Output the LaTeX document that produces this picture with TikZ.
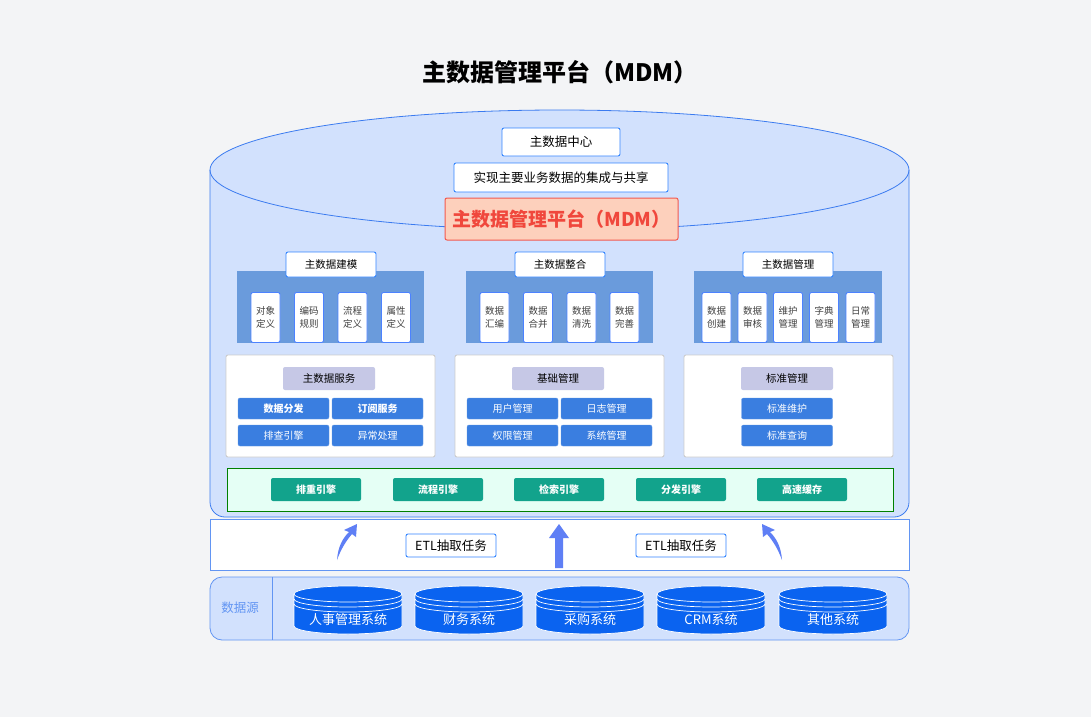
\documentclass[tikz,border=0pt]{standalone}
\usepackage{fontspec}
\setmainfont{Noto Sans CJK SC}
\begin{document}
\begin{tikzpicture}[x=1pt,y=-1pt,
  wbox/.style={draw=blue!60!cyan!80!white,fill=white,rounded corners=2pt,line width=0.9pt,inner sep=0pt},
  sbox/.style={draw=blue!70!cyan!70!white,fill=white,rounded corners=2pt,line width=0.9pt,inner sep=0pt,minimum width=29pt,minimum height=50pt,font=\fontsize{9.5}{13}\selectfont,align=center,text=black!75},
  panel/.style={draw=black!20,fill=white,rounded corners=2pt,line width=0.9pt},
  lav/.style={fill=lavc,rounded corners=2pt,inner sep=0pt,minimum width=92pt,minimum height=23pt,font=\fontsize{10.5}{12}\selectfont},
  btn/.style={fill=btnc,draw=btnc!80!white,rounded corners=2pt,inner sep=0pt,minimum width=91pt,minimum height=21pt,text=white,font=\fontsize{10}{12}\selectfont},
  tbtn/.style={fill=tealc,rounded corners=2pt,inner sep=0pt,minimum width=90pt,minimum height=23pt,text=white,font=\bfseries\fontsize{10}{12}\selectfont},
  etl/.style={draw=blue!60!cyan!80!white,fill=white,rounded corners=2pt,line width=0.9pt,inner sep=0pt,minimum width=90pt,minimum height=23pt,font=\fontsize{12.5}{14}\selectfont}]
\definecolor{bg}{HTML}{F3F4F6}
\definecolor{cyl}{HTML}{D2E1FD}
\definecolor{cyld}{HTML}{3B7BF0}
\definecolor{bandc}{HTML}{6A9BDC}
\definecolor{lavc}{HTML}{C6C8E6}
\definecolor{btnc}{HTML}{3A7EE0}
\definecolor{tealc}{HTML}{12A38C}
\definecolor{arrc}{HTML}{5F7FF5}
\definecolor{dbc}{HTML}{0A63F0}
\definecolor{redt}{HTML}{F0473C}
\definecolor{redf}{HTML}{FDD0BC}
\fill[bg] (0,0) rectangle (1091,717);
\useasboundingbox (0,0) rectangle (1091,717);
\node[font=\bfseries\fontsize{24}{26}\selectfont] (title) at (560,72) {主数据管理平台（MDM）};
% cylinder
\filldraw[fill=cyl,draw=cyld,line width=0.8pt] (210,170) -- (210,502) arc[start angle=180,end angle=90,radius=15] -- (894,517) arc[start angle=90,end angle=0,radius=15] -- (909,170) arc[start angle=0,end angle=-180,x radius=349.5,y radius=60] -- cycle;
\draw[cyld,line width=0.8pt] (210,170) arc[start angle=180,end angle=0,x radius=349.5,y radius=60];
\node[wbox,minimum width=118pt,minimum height=28pt,font=\fontsize{12.5}{14}\selectfont] (c1) at (561,142) {主数据中心};
\node[wbox,minimum width=214pt,minimum height=29pt,font=\fontsize{12.5}{14}\selectfont] (c2) at (561,177.5) {实现主要业务数据的集成与共享};
\node[draw=redt!90!white,fill=redf,rounded corners=2pt,line width=1pt,minimum width=233pt,minimum height=42pt,inner sep=0pt,text=redt,font=\bfseries\fontsize{19}{21}\selectfont] (c3) at (561.5,219) {主数据管理平台（MDM）};
% group bands
\fill[bandc] (237,271) rectangle (424,343);
\fill[bandc] (466,271) rectangle (653,343);
\fill[bandc] (694,271) rectangle (882,343);
\node[wbox,minimum width=90pt,minimum height=25pt,font=\fontsize{10.5}{12}\selectfont] (g1) at (331,264.5) {主数据建模};
\node[wbox,minimum width=90pt,minimum height=25pt,font=\fontsize{10.5}{12}\selectfont] (g2) at (560,264.5) {主数据整合};
\node[wbox,minimum width=90pt,minimum height=25pt,font=\fontsize{10.5}{12}\selectfont] (g3) at (788,264.5) {主数据管理};
\node[sbox] (a1) at (265.5,317.5) {对象\\定义};
\node[sbox] (a2) at (309,317.5) {编码\\规则};
\node[sbox] (a3) at (352.5,317.5) {流程\\定义};
\node[sbox] (a4) at (396,317.5) {属性\\定义};
\node[sbox] (b1) at (494.5,317.5) {数据\\汇编};
\node[sbox] (b2) at (538,317.5) {数据\\合并};
\node[sbox] (b3) at (581.5,317.5) {数据\\清洗};
\node[sbox] (b4) at (624.5,317.5) {数据\\完善};
\node[sbox] (d1) at (716.5,317.5) {数据\\创建};
\node[sbox] (d2) at (752.5,317.5) {数据\\审核};
\node[sbox] (d3) at (788,317.5) {维护\\管理};
\node[sbox] (d4) at (824,317.5) {字典\\管理};
\node[sbox] (d5) at (860.5,317.5) {日常\\管理};
% panels
\draw[panel] (226,355) rectangle (435,457);
\draw[panel] (455,355) rectangle (664,457);
\draw[panel] (684,355) rectangle (893,457);
\node[lav] (p1) at (329,378.5) {主数据服务};
\node[lav] (p2) at (558,378.5) {基础管理};
\node[lav] (p3) at (787,378.5) {标准管理};
\node[btn,font=\bfseries\fontsize{10}{12}\selectfont] (s1) at (283.5,408.5) {数据分发};
\node[btn,font=\bfseries\fontsize{10}{12}\selectfont] (s2) at (377.5,408.5) {订阅服务};
\node[btn] (s3) at (283.5,435.5) {排查引擎};
\node[btn] (s4) at (377.5,435.5) {异常处理};
\node[btn] (m1) at (512.5,408.5) {用户管理};
\node[btn] (m2) at (606.5,408.5) {日志管理};
\node[btn] (m3) at (512.5,435.5) {权限管理};
\node[btn] (m4) at (606.5,435.5) {系统管理};
\node[btn] (n1) at (787,408.5) {标准维护};
\node[btn] (n2) at (787,435.5) {标准查询};
% engines
\filldraw[fill=green!40!cyan!10!white,draw=green!50!black,line width=0.8pt] (227,468) rectangle (893,511);
\node[tbtn] (e1) at (316,489.5) {排重引擎};
\node[tbtn] (e2) at (438,489.5) {流程引擎};
\node[tbtn] (e3) at (559,489.5) {检索引擎};
\node[tbtn] (e4) at (681,489.5) {分发引擎};
\node[tbtn] (e5) at (802,489.5) {高速缓存};
% ETL band
\filldraw[fill=white,draw=cyld!80!white,line width=0.8pt] (210,519) rectangle (909,570);
\node[etl] (t1) at (451,545.5) {ETL抽取任务};
\node[etl] (t2) at (681,545.5) {ETL抽取任务};
\fill[arrc] (337,560) .. controls (338,546) and (343,538) .. (349,532) -- (344,530) -- (357,524) -- (356,537) -- (352,534) .. controls (346,541) and (341,549) .. (337,560) -- cycle;
\fill[arrc] (555,568) -- (555,538) -- (549,538) -- (559,524) -- (569,538) -- (563,538) -- (563,568) -- cycle;
\fill[arrc] (782,560) .. controls (781,546) and (776,538) .. (770,532) -- (775,530) -- (762,524) -- (763,537) -- (767,534) .. controls (773,541) and (778,549) .. (782,560) -- cycle;
% data source
\filldraw[fill=cyl,draw=cyld!80!white,line width=0.8pt,rounded corners=12pt] (210,577) rectangle (909,640);
\draw[cyld!80!white,line width=0.8pt] (272,577) -- (272,640);
\node[text=cyld!80!white,font=\fontsize{12.5}{14}\selectfont] (ds) at (240,608) {数据源};
\foreach \cx/\lab/\nm in {348/人事管理系统/h1,469/财务系统/h2,590/采购系统/h3,711/CRM系统/h4,833/其他系统/h5}{
  \filldraw[fill=dbc,draw=white,line width=0.7pt] (\cx-54,594) -- (\cx-54,626) arc[start angle=180,end angle=0,x radius=54,y radius=8] -- (\cx+54,594) arc[start angle=0,end angle=-180,x radius=54,y radius=8] -- cycle;
  \draw[white,line width=0.7pt] (\cx-54,594) arc[start angle=180,end angle=0,x radius=54,y radius=8];
  \draw[white,line width=0.7pt] (\cx-54,599) arc[start angle=180,end angle=0,x radius=54,y radius=8];
  \draw[white,line width=0.7pt] (\cx-54,604) arc[start angle=180,end angle=0,x radius=54,y radius=8];
  \node[text=white,font=\fontsize{13}{14}\selectfont] (\nm) at (\cx,620) {\lab};
}
\end{tikzpicture}
\end{document}
